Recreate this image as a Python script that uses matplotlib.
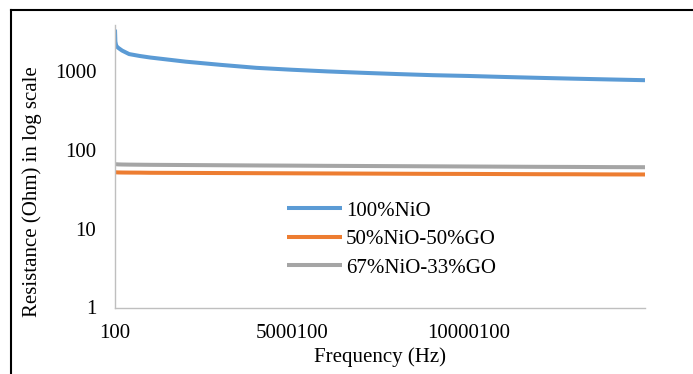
import matplotlib
matplotlib.use("Agg")
import matplotlib.pyplot as plt
from matplotlib.lines import Line2D
from matplotlib.ticker import NullLocator

plt.rcParams['font.family'] = ['Liberation Serif', 'DejaVu Serif']

# frequency (Hz) and resistance (Ohm)
freq = [100, 10100, 30100, 60100, 100100, 200100, 400100, 700100, 1000100,
        2000100, 3000100, 4000100, 5000100, 6000100, 7000100, 8000100,
        9000100, 10000100, 11000100, 12000100, 13000100, 14000100, 15000100]
r_nio = [3400, 2400, 2150, 2050, 1980, 1840, 1660, 1570, 1500,
         1330, 1210, 1110, 1050, 1000, 960, 925,
         895, 875, 850, 828, 808, 790, 773]
r_50go = [52.5, 52.3, 52.2, 52.1, 52.0, 51.9, 51.8, 51.7, 51.5,
          51.3, 51.1, 50.9, 50.7, 50.5, 50.3, 50.1,
          49.9, 49.8, 49.6, 49.4, 49.3, 49.1, 49.0]
r_33go = [67.5, 66.5, 66.2, 66.0, 65.8, 65.6, 65.4, 65.2, 65.0,
          64.6, 64.2, 63.8, 63.5, 63.1, 62.8, 62.5,
          62.2, 61.9, 61.6, 61.3, 61.1, 60.8, 60.6]

labels = ['100%NiO', '50%NiO-50%GO', '67%NiO-33%GO']
colors = ['#5B9BD5', '#ED7D31', '#A5A5A5']
xticks = [100, 5000100, 10000100]
yticks = [1, 10, 100, 1000]

W, H = 693, 374
fig = plt.figure(figsize=(W / 100, H / 100), dpi=100)
ax = fig.add_axes([115 / W, (H - 307.5) / H, 530 / W, 282.5 / H])

for y, lab, c in zip([r_nio, r_50go, r_33go], labels, colors):
    ax.plot(freq, y, color=c, lw=2.9, label=lab, solid_capstyle='butt')

ax.set_yscale('log')
ax.set_ylim(1, 10 ** (282.5 / 78.7))
ax.set_xlim(100, 15000100)
ax.set_yticks(yticks)
ax.set_yticklabels([str(v) for v in yticks])
ax.yaxis.set_minor_locator(NullLocator())
ax.set_xticks(xticks)
ax.set_xticklabels([str(v) for v in xticks])
ax.tick_params(axis='both', length=0, labelsize=15)
ax.tick_params(axis='y', pad=13.5)
ax.tick_params(axis='x', pad=12)

for s in ['top', 'right']:
    ax.spines[s].set_visible(False)
for s in ['left', 'bottom']:
    ax.spines[s].set_color('#BFBFBF')
    ax.spines[s].set_linewidth(1.0)

ax.set_xlabel('Frequency (Hz)', fontsize=15)
ax.set_ylabel('Resistance (Ohm) in log scale', fontsize=15)
ax.xaxis.set_label_coords(0.5, -0.14)
ax.yaxis.set_label_coords(-0.138, 0.41)

ax.legend(loc='upper left', bbox_to_anchor=(287 / W, (H - 201) / H),
          bbox_transform=fig.transFigure, frameon=False, fontsize=15,
          borderpad=0, borderaxespad=0, handlelength=2.62,
          handletextpad=0.2, labelspacing=0.43)

# outer border (only left and top visible in the crop)
fig.add_artist(Line2D([11 / W, 11 / W], [0, (H - 10) / H], color='black',
                      lw=1.5, transform=fig.transFigure))
fig.add_artist(Line2D([11 / W, 1], [(H - 10) / H, (H - 10) / H],
                      color='black', lw=1.5, transform=fig.transFigure))

fig.savefig('out.png', dpi=100)
